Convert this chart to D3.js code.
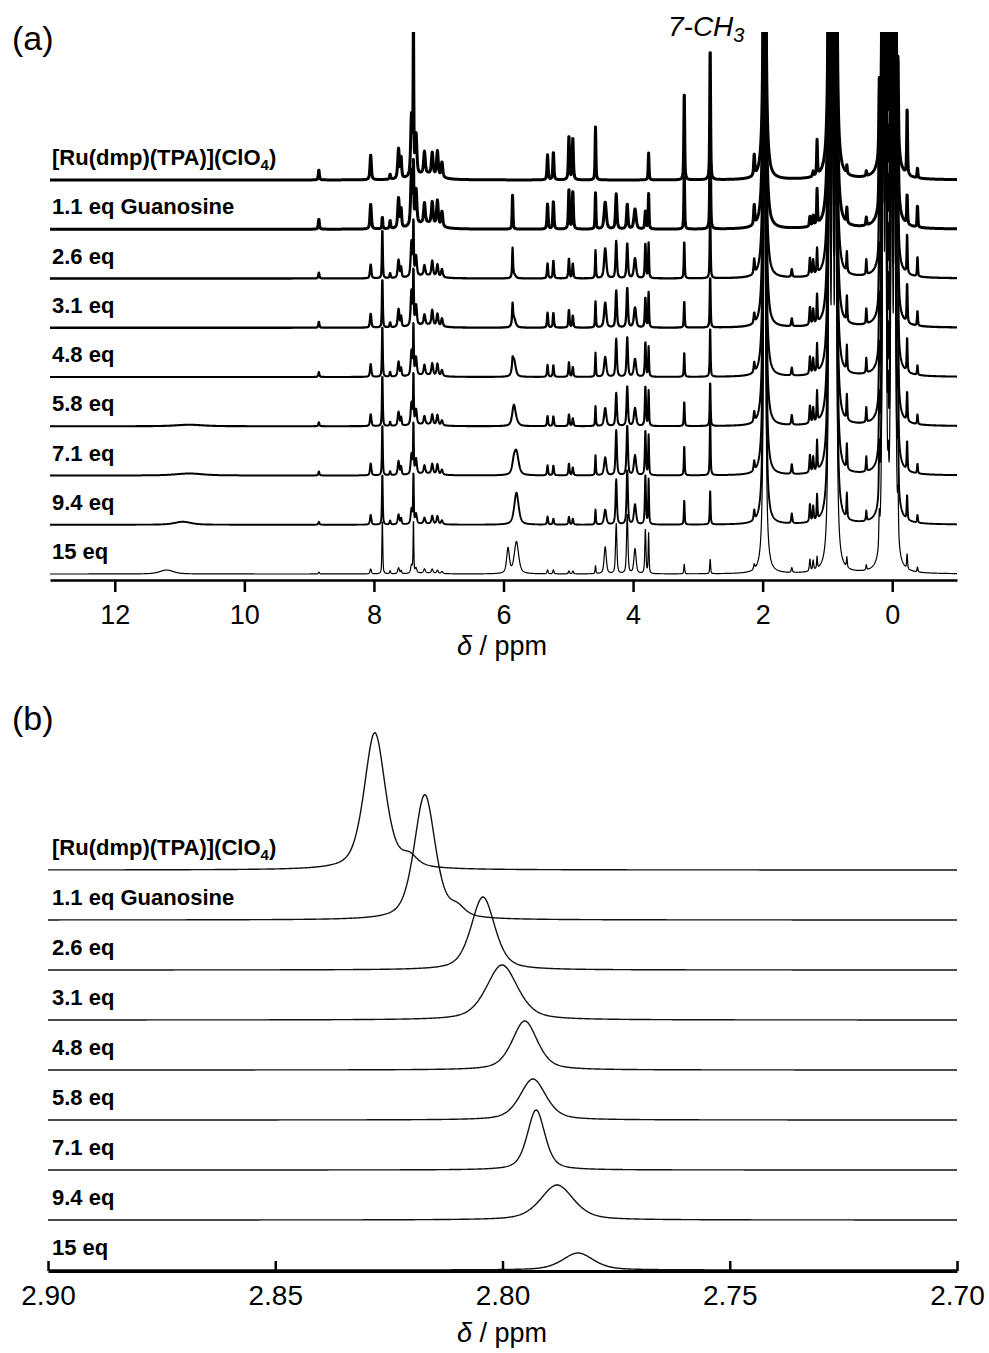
<!DOCTYPE html>
<html>
<head>
<meta charset="utf-8">
<script src="https://cdn.jsdelivr.net/npm/d3@7"></script>
<style>
  body { margin: 0; background: #fff; }
  svg text { font-family: "Liberation Sans", Arial, Helvetica, sans-serif; fill: #000; }
</style>
</head>
<body>
<svg id="chart" width="989" height="1353"></svg>
<script>
// trace labels, top to bottom (same for both panels)
let traceLabels = ['[Ru(dmp)(TPA)](ClO4)', '1.1 eq Guanosine', '2.6 eq', '3.1 eq',
                   '4.8 eq', '5.8 eq', '7.1 eq', '9.4 eq', '15 eq'];

// panel (a): peak positions (ppm), widths (ppm) and heights for each trace
let aPpm = [11.2, 10.95, 10.85, 8.85, 8.05, 7.87, 7.75, 7.62, 7.58, 7.42, 7.39, 7.35, 7.22, 7.2,
            7.1, 7.02, 6.95, 5.86, 5.84, 5.80, 5.93, 5.32, 5.23, 4.99, 4.93, 4.58, 4.43, 4.26,
            4.09, 3.97, 3.81, 3.76, 3.21, 2.81, 2.13, 1.97, 1.55, 1.27, 1.22, 1.16, 0.97, 0.92,
            0.87, 0.70, 0.40, 0.20, 0.14, 0.10, 0.06, 0.01, -0.04, -0.09, -0.23, -0.39];
let aFwhm = [0.25, 0.3, 0.5, 0.02, 0.025, 0.015, 0.02, 0.03, 0.02, 0.03, 0.012, 0.03, 0.03, 0.4,
             0.03, 0.03, 0.03, 0.015, 0.06, 0.08, 0.05, 0.02, 0.02, 0.02, 0.02, 0.015, 0.04, 0.025,
             0.025, 0.04, 0.02, 0.015, 0.015, 0.015, 0.02, 0.03, 0.02, 0.02, 0.02, 0.015, 0.025, 0.025,
             0.025, 0.015, 0.015, 0.015, 0.025, 0.02, 0.015, 0.025, 0.025, 0.015, 0.015, 0.015];
let aHeights = [
  [0, 0, 0, 0, 0, 0, 0, 0, 4],
  [0, 0, 0, 0, 0, 0, 0, 3, 0],
  [0, 0, 0, 0, 0, 1.5, 2, 0, 0],
  [10, 10, 6, 6, 5, 4, 4, 3, 2],
  [25, 25, 14, 14, 13, 12, 12, 10, 5],
  [0, 12, 50, 50, 52, 52, 52, 52, 55],
  [5, 8, 5, 5, 5, 4, 4, 4, 3],
  [30, 30, 18, 18, 15, 14, 14, 10, 6],
  [20, 18, 10, 10, 8, 8, 8, 6, 3],
  [60, 55, 35, 35, 25, 22, 20, 15, 8],
  [147, 60, 55, 55, 52, 52, 52, 52, 55],
  [40, 35, 20, 20, 18, 15, 15, 10, 5],
  [22, 20, 10, 10, 10, 8, 8, 6, 4],
  [6, 6, 3, 3, 2, 2, 2, 1, 1],
  [22, 22, 15, 15, 12, 10, 10, 8, 4],
  [25, 25, 12, 12, 12, 10, 10, 8, 3],
  [15, 15, 8, 8, 6, 5, 5, 4, 2],
  [0, 34, 28, 18, 8, 0, 0, 0, 0],
  [0, 0, 4, 10, 18, 20, 10, 0, 0],
  [0, 0, 0, 0, 0, 3, 22, 32, 32],
  [0, 0, 0, 0, 0, 0, 0, 0, 25],
  [25, 25, 15, 15, 12, 10, 10, 8, 4],
  [28, 28, 18, 15, 12, 10, 10, 6, 4],
  [44, 40, 20, 18, 15, 12, 12, 8, 3],
  [42, 38, 15, 12, 10, 8, 8, 6, 3],
  [53, 36, 28, 26, 24, 20, 20, 15, 8],
  [0, 27, 30, 25, 20, 18, 18, 15, 27],
  [0, 35, 37, 37, 38, 33, 45, 45, 50],
  [0, 25, 35, 40, 40, 40, 50, 55, 60],
  [0, 20, 20, 20, 18, 18, 20, 20, 25],
  [0, 18, 35, 30, 35, 40, 45, 50, 45],
  [27, 35, 35, 35, 30, 35, 40, 45, 40],
  [90, 55, 38, 27, 25, 25, 30, 25, 10],
  [135, 110, 70, 52, 50, 45, 60, 35, 15],
  [21, 20, 15, 10, 10, 10, 10, 10, 5],
  [700, 700, 700, 700, 700, 700, 700, 700, 700],
  [0, 0, 8, 8, 8, 10, 10, 10, 5],
  [0, 10, 18, 18, 18, 18, 18, 18, 12],
  [5, 10, 15, 15, 15, 15, 15, 15, 10],
  [35, 35, 25, 28, 28, 30, 30, 25, 12],
  [700, 700, 700, 700, 700, 700, 700, 700, 700],
  [700, 700, 700, 700, 700, 700, 700, 700, 700],
  [700, 700, 700, 700, 700, 700, 700, 700, 700],
  [8, 15, 20, 25, 25, 25, 25, 25, 10],
  [5, 8, 15, 15, 15, 15, 15, 10, 5],
  [67, 60, 55, 50, 50, 50, 50, 50, 30],
  [700, 700, 700, 700, 700, 700, 700, 700, 700],
  [700, 700, 700, 700, 700, 700, 700, 700, 700],
  [78, 70, 60, 60, 60, 60, 60, 60, 40],
  [700, 700, 700, 700, 700, 700, 700, 700, 700],
  [700, 700, 700, 700, 700, 700, 700, 700, 700],
  [77, 70, 60, 60, 60, 60, 60, 55, 40],
  [68, 30, 40, 40, 35, 30, 30, 25, 15],
  [10, 22, 20, 15, 10, 10, 10, 8, 5]
];
let aTicks = [12, 10, 8, 6, 4, 2, 0];

// panel (b): the 7-CH3 signal in each trace
let bPpm = [2.8281, 2.8171, 2.8043, 2.8001, 2.7951, 2.7933, 2.7926, 2.7880, 2.7834];
let bHeight = [137, 125, 73, 55, 49, 41, 60, 35, 17];
let bFwhm = [0.0055, 0.0055, 0.0062, 0.0082, 0.0066, 0.0068, 0.0046, 0.0086, 0.0081];
let bShoulderPpm = [2.8205, 2.8100, 0, 0, 0, 0, 0, 0, 0];
let bShoulderHeight = [10, 9, 0, 0, 0, 0, 0, 0, 0];
let bTicks = [2.90, 2.85, 2.80, 2.75, 2.70];

let svg = d3.select('#chart');

// pseudo-Voigt line shape
let pv = function (x, x0, fwhm, h, eta) {
  let u = (x - x0) / (fwhm / 2);
  return h * (eta / (1 + u * u) + (1 - eta) * Math.exp(-Math.LN2 * u * u));
}

let amp = d3.scaleLinear().domain([0, 100]).range([0, 100]);

let drawLabel = function (g, text, x, y) {
  let t = g.append('text')
           .attr('x', x).attr('y', y)
           .attr('font-size', 22).attr('font-weight', 'bold');
  let m = text.match(/^(.*ClO)4(\))$/);
  if (m) {
    t.append('tspan').text(m[1]);
    t.append('tspan').attr('font-size', 15).attr('dy', 5).text('4');
    t.append('tspan').attr('dy', -5).text(m[2]);
  }
  else
    t.text(text);
}

let drawTitle = function (x, y) {
  let t = svg.append('text').attr('x', x).attr('y', y)
             .attr('text-anchor', 'middle').attr('font-size', 27);
  t.append('tspan').attr('font-style', 'italic').text('δ');
  t.append('tspan').text(' / ppm');
}

// ---------- panel (a) ----------
let xA = d3.scaleLinear().domain([13, -1]).range([50, 957]),
    yA = d3.scalePoint().domain(traceLabels).range([180, 574]),
    widthsA = [3, 3, 2.3, 2.3, 2.1, 2.1, 2, 1.9, 1.2];

svg.append('clipPath').attr('id', 'clipA')
   .append('rect').attr('x', 0).attr('y', 32).attr('width', 989).attr('height', 560);

let gA = svg.append('g').attr('clip-path', 'url(#clipA)');
let gridA = d3.range(13, -1.0001, -0.004);

traceLabels.forEach(function (label, i) {
  let pts = gridA.map(function (p) {
    let v = 0;
    for (let k = 0; k < aPpm.length; k++) {
      let h = aHeights[k][i];
      if (h && Math.abs(p - aPpm[k]) < 3)
        v += pv(p, aPpm[k], aFwhm[k], h, h > 500 ? 0.85 : 0.6);
    }
    return [p, v];
  });
  let line = d3.line()
               .x(d => xA(d[0]))
               .y(d => yA(label) - amp(d[1]));
  gA.append('path').datum(pts)
    .attr('d', line)
    .attr('fill', 'none')
    .attr('stroke', '#000')
    .attr('stroke-width', widthsA[i])
    .attr('stroke-linejoin', 'round');
});

traceLabels.forEach(function (label) {
  drawLabel(svg, label, 52, yA(label) - 15);
});

let axA = svg.append('g').attr('transform', 'translate(0,580)')
  .call(d3.axisBottom(xA).tickValues(aTicks).tickSizeInner(12).tickSizeOuter(0)
          .tickPadding(13).tickFormat(d3.format('d')));
axA.select('.domain').attr('stroke', '#000').attr('stroke-width', 2.5);
axA.selectAll('.tick line').attr('stroke', '#000').attr('stroke-width', 2.5);
axA.selectAll('.tick text').attr('font-size', 27).attr('fill', '#000')
   .attr('font-family', '"Liberation Sans", Arial, sans-serif');

drawTitle(502, 655);

svg.append('text').attr('x', 12).attr('y', 50).attr('font-size', 34).text('(a)');

let ch3 = svg.append('text').attr('x', 668).attr('y', 36)
             .attr('font-size', 28).attr('font-style', 'italic');
ch3.append('tspan').text('7-CH');
ch3.append('tspan').attr('font-size', 20).attr('dy', 6).text('3');

// ---------- panel (b) ----------
let xB = d3.scaleLinear().domain([2.90, 2.70]).range([48, 957]),
    yB = d3.scalePoint().domain(traceLabels).range([870, 1270]);

let gridB = d3.range(2.90, 2.69995, -0.0002);

traceLabels.forEach(function (label, i) {
  let pts = gridB.map(function (p) {
    let v = pv(p, bPpm[i], bFwhm[i], bHeight[i], 0.5);
    if (bShoulderHeight[i])
      v += pv(p, bShoulderPpm[i], 0.004, bShoulderHeight[i], 0.5);
    return [p, v];
  });
  let line = d3.line()
               .x(d => xB(d[0]))
               .y(d => yB(label) - amp(d[1]));
  svg.append('path').datum(pts)
     .attr('d', line)
     .attr('fill', 'none')
     .attr('stroke', '#111')
     .attr('stroke-width', 1.4);
});

traceLabels.forEach(function (label) {
  drawLabel(svg, label, 52, yB(label) - 15);
});

let axB = svg.append('g').attr('transform', 'translate(0,1271)')
  .call(d3.axisBottom(xB).tickValues(bTicks).tickSizeInner(-10).tickSizeOuter(0)
          .tickPadding(14).tickFormat(d3.format('.2f')));
axB.select('.domain').attr('stroke', '#000').attr('stroke-width', 3);
axB.selectAll('.tick line').attr('stroke', '#000').attr('stroke-width', 2.5);
axB.selectAll('.tick text').attr('font-size', 28).attr('fill', '#000')
   .attr('font-family', '"Liberation Sans", Arial, sans-serif');

drawTitle(502, 1342);

svg.append('text').attr('x', 12).attr('y', 730).attr('font-size', 34).text('(b)');
</script>
</body>
</html>
